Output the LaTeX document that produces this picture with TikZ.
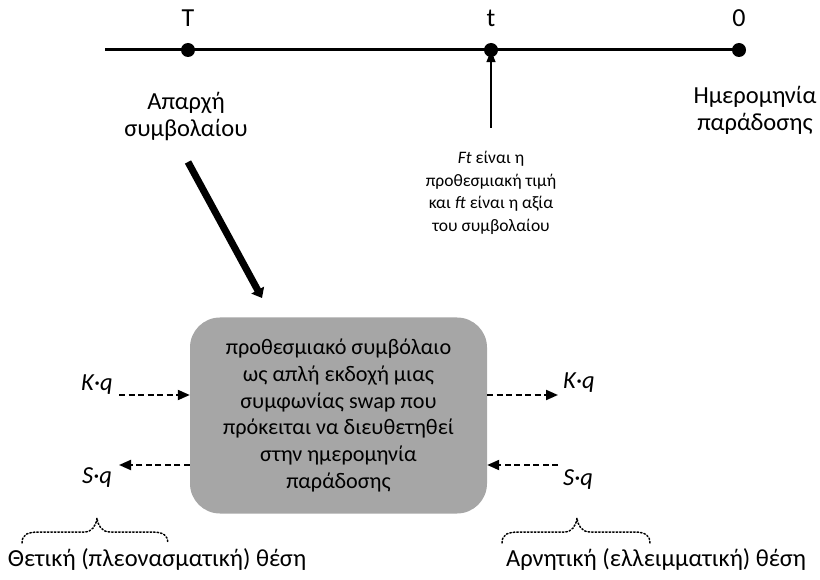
\documentclass[tikz,border=0pt]{standalone}
\usepackage{fontspec}
\setmainfont{Carlito}
\usetikzlibrary{arrows.meta}
\tikzset{
  lbl/.style={font=\fontsize{24.5}{27}\selectfont, align=center, inner sep=0pt},
  tlbl/.style={font=\fontsize{26}{28}\selectfont, inner sep=0pt},
  small/.style={font=\fontsize{17.5}{22.5}\selectfont, align=center, inner sep=0pt},
  dot/.style={circle, fill=black, inner sep=0pt, minimum size=14pt},
  dasharr/.style={line width=2pt, dash pattern=on 6pt off 3.5pt, -{Triangle[length=12pt,width=10pt]}},
  bracepath/.style={line width=1.5pt, dotted, line cap=round},
  mainbox/.style={rectangle, rounded corners=30pt, fill=boxgray, minimum width=297pt, minimum height=196pt, align=center, inner sep=0pt, font=\fontsize{22.2}{26.8}\selectfont}
}
\definecolor{boxgray}{HTML}{A6A6A6}
\begin{document}
\begin{tikzpicture}[x=1pt,y=-1pt]
\useasboundingbox (0,0) rectangle (820,580);
% timeline
\coordinate (L) at (105,50);
\node[dot] (dT) at (188,50) {};
\node[dot] (dt) at (491,50) {};
\node[dot] (d0) at (739,50) {};
\draw[line width=3pt] (L) -- (d0.center);
\node[tlbl] (lT) at (188,18) {T};
\node[tlbl] (lt) at (491,18) {t};
\node[tlbl] (l0) at (739,18) {0};
\node[lbl] (start) at (186,116) {Απαρχή\\συμβολαίου};
\node[lbl] (deliv) at (755,110) {Ημερομηνία\\παράδοσης};
\node[small] (ft) at (491,193) {\textit{Ft} είναι η\\προθεσμιακή τιμή\\και \textit{ft} είναι η αξία\\του συμβολαίου};
\coordinate (ua) at (491,128);
\draw[line width=1.4pt, -{Triangle[length=12pt,width=9pt]}] (ua) -- ([yshift=7pt]dt.south);
% thick arrow
\coordinate (ta) at (188,162);
\coordinate (tb) at (262,298);
\draw[line width=7pt, -{Triangle[length=9pt,width=14pt]}] (ta) -- (tb);
% box
\node[mainbox] (box) at (338.5,415.5) {προθεσμιακό συμβόλαιο\\ως απλή εκδοχή μιας\\συμφωνίας swap που\\πρόκειται να διευθετηθεί\\στην ημερομηνία\\παράδοσης};
% left side
\node[lbl] (kql) at (97,385) {\textit{K·q}};
\node[lbl] (sql) at (97,478) {\textit{S·q}};
\coordinate (kqlE) at (119,395);
\coordinate (sqlE) at (119,465);
\draw[dasharr] (kqlE) -- (kqlE -| box.west);
\draw[dasharr] (sqlE -| box.west) -- (sqlE);
% right side
\node[lbl] (kqr) at (579,383) {\textit{K·q}};
\node[lbl] (sqr) at (578,480) {\textit{S·q}};
\coordinate (kqrW) at (558,395);
\coordinate (sqrW) at (558,465);
\draw[dasharr] (kqrW -| box.east) -- (kqrW);
\draw[dasharr] (sqrW) -- (sqrW -| box.east);
% braces
\draw[bracepath] (22,543) .. controls (22,534) and (28,532) .. (40,532) -- (84,532) .. controls (92,532) and (96,526) .. (97,518) .. controls (98,526) and (102,532) .. (110,532) -- (152,532) .. controls (164,532) and (168,536) .. (168,543);
\draw[bracepath] (502,543) .. controls (502,534) and (508,532) .. (520,532) -- (564,532) .. controls (572,532) and (576,526) .. (577,518) .. controls (578,526) and (582,532) .. (590,532) -- (634,532) .. controls (646,532) and (650,536) .. (650,543);
\node[lbl] (pos) at (157,560) {Θετική (πλεονασματική) θέση};
\node[lbl] (neg) at (656,560) {Αρνητική (ελλειμματική) θέση};
\end{tikzpicture}
\end{document}
